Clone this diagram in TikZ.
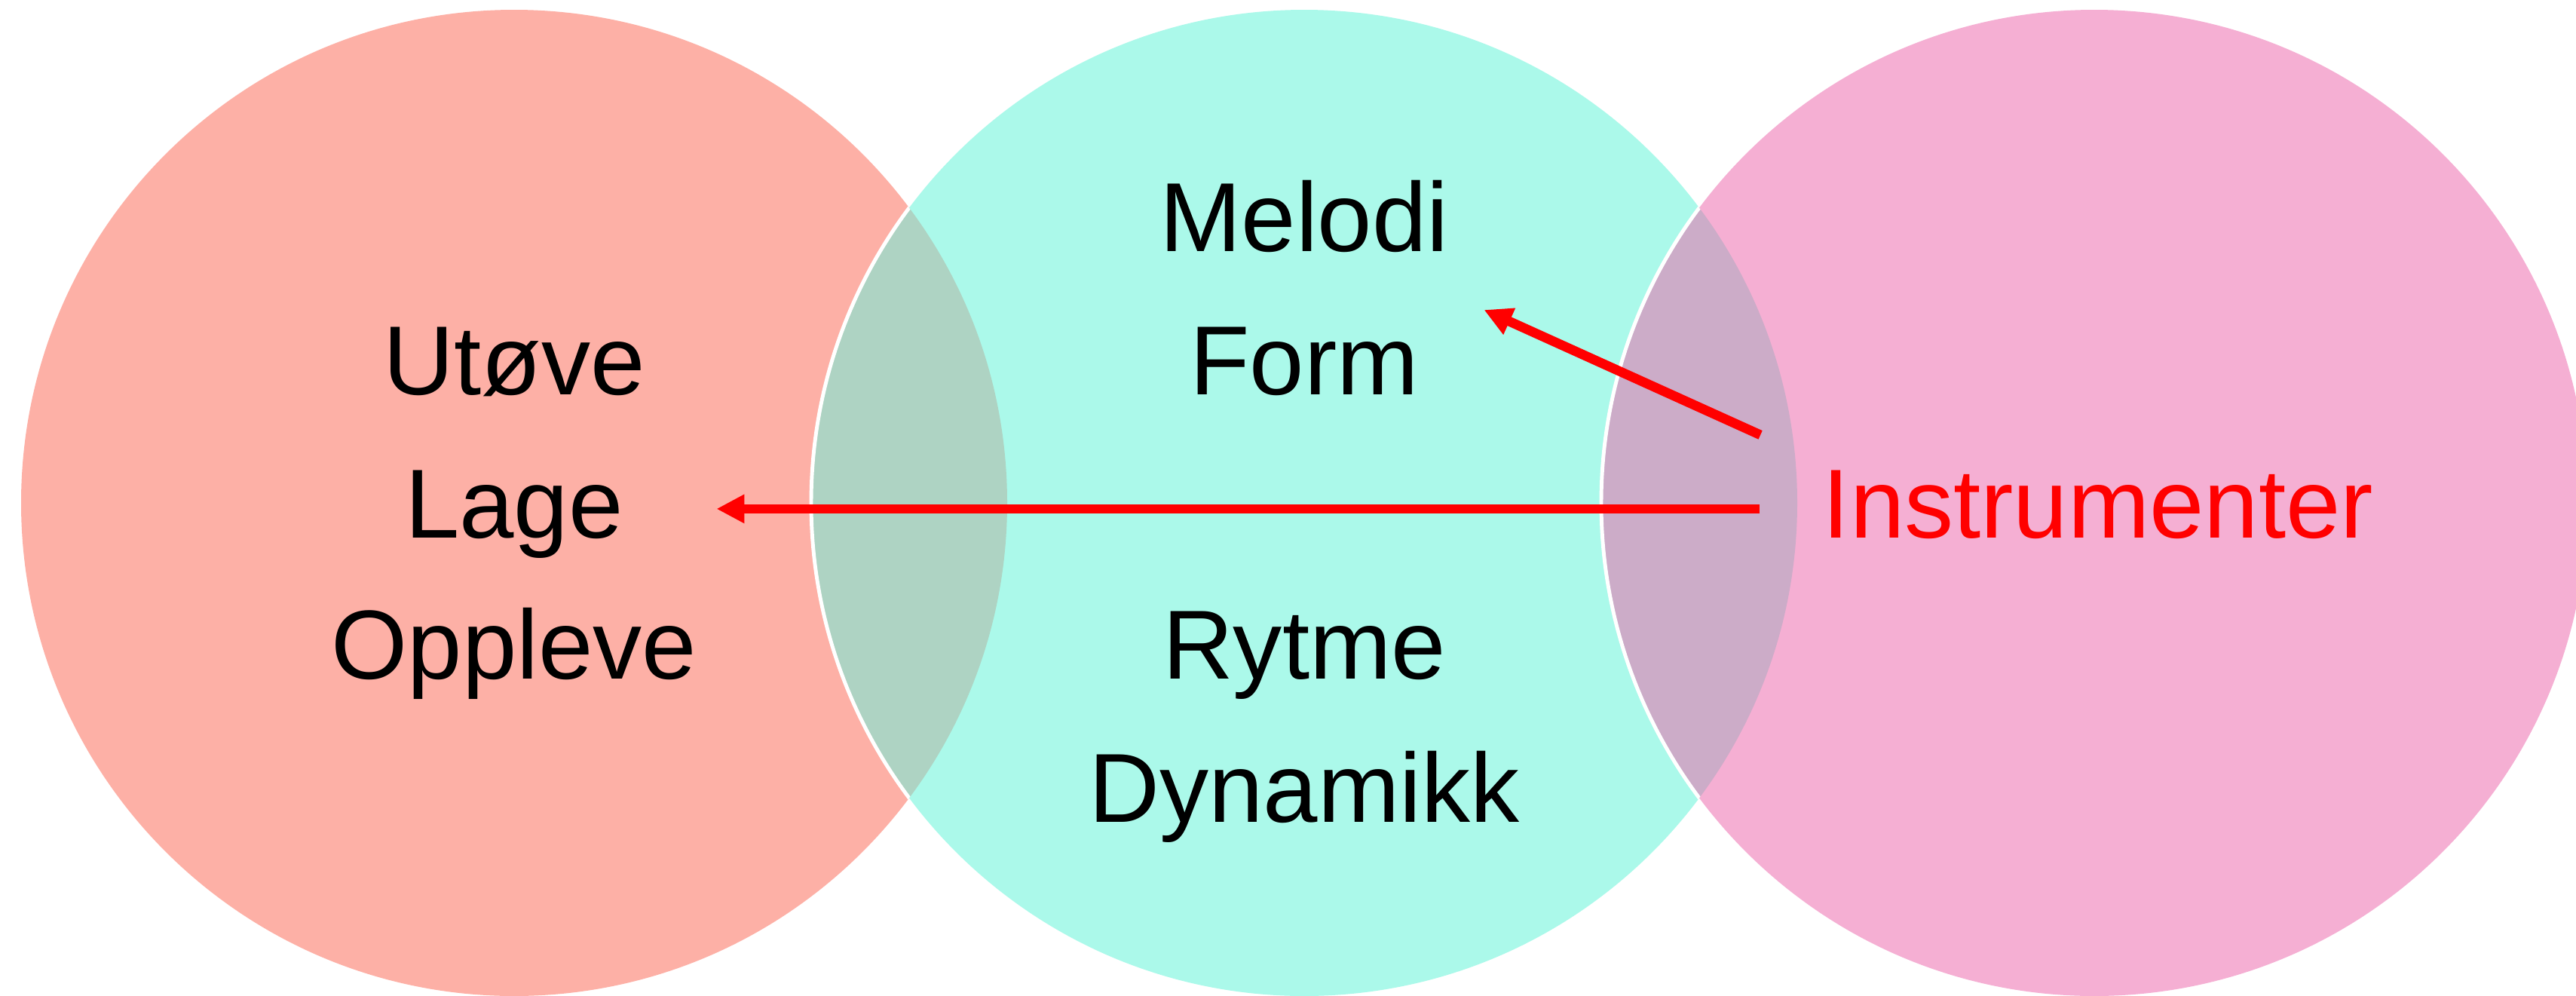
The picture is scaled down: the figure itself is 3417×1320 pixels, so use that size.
\documentclass[tikz,border=0pt]{standalone}
\usepackage{fontspec}
\setmainfont{Liberation Sans}
\usetikzlibrary{arrows.meta,calc}
\definecolor{cleft}{HTML}{FDB0A6}
\definecolor{cmid}{HTML}{ABF9EA}
\definecolor{cright}{HTML}{F5AFD3}
\definecolor{clm}{HTML}{AED3C3}
\definecolor{cmr}{HTML}{CCACC8}
\definecolor{cred}{HTML}{FF0000}
\tikzset{
  lbl/.style={inner sep=0pt, anchor=base, font=\fontsize{37}{44}\selectfont, text=black},
  redlbl/.style={lbl, text=cred},
  redarrow/.style={draw=cred, line width=3.6pt, -{Triangle[length=0.37cm,width=0.36cm]}},
  rim/.style={draw=white, line width=1.4pt}
}
\begin{document}
\begin{tikzpicture}[x=0.01cm,y=-0.01cm]
\clip (0,0) rectangle (3417,1320);
\fill[white] (0,0) rectangle (3417,1320);
% circles
\fill[cleft]  (682,667) circle (654);
\fill[cmid]   (1730,667) circle (654);
\fill[cright] (2778,667) circle (654);
% overlaps
\begin{scope}
  \clip (682,667) circle (654);
  \fill[clm] (1730,667) circle (654);
  \draw[rim] (1730,667) circle (654);
\end{scope}
\begin{scope}
  \clip (1730,667) circle (654);
  \fill[cmr] (2778,667) circle (654);
  \draw[rim] (2778,667) circle (654);
\end{scope}
% texts
\node[lbl] (utove)   at (682,523) {Utøve};
\node[lbl] (lage)    at (682,713) {Lage};
\node[lbl] (opplev)  at (682,900) {Oppleve};
\node[lbl] (melodi)  at (1730,333) {Melodi};
\node[lbl] (form)    at (1730,523) {Form};
\node[lbl] (rytme)   at (1730,900) {Rytme};
\node[lbl] (dyn)     at (1730,1090) {Dynamikk};
\node[redlbl] (instr) at (2783,713) {Instrumenter};
% arrow end points
\coordinate (hstart) at ($(instr.west)+(-83,6)$);
\coordinate (htip) at ($(lage.base east)+(123,0)$);
% arrows
\draw[redarrow] (hstart) -- (htip |- hstart);
\draw[redarrow] ($(instr.west)+(-82,-92)$) -- ($(form.base east)+(86,-112)$);
\end{tikzpicture}
\end{document}
